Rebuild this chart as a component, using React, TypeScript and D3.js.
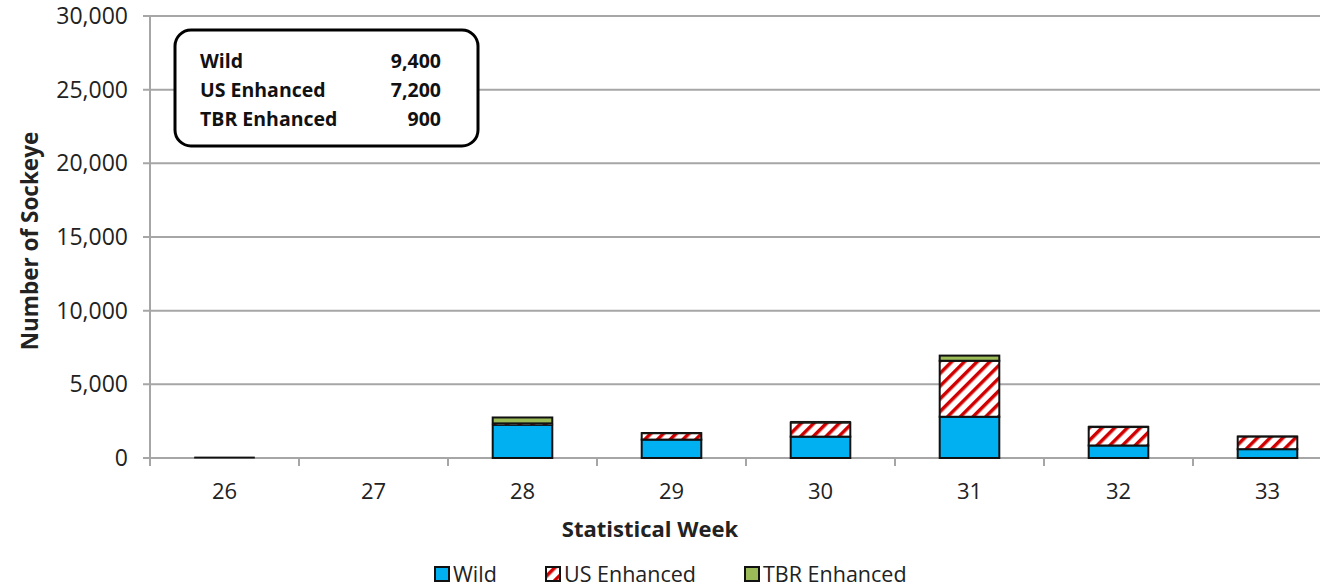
import React, { useEffect, useRef } from "react";
import * as d3 from "d3";

const weeks = ["26", "27", "28", "29", "30", "31", "32", "33"];
const wild = [60, 0, 2250, 1250, 1450, 2800, 850, 600];
const usEnhanced = [0, 0, 100, 430, 950, 3800, 1250, 850];
const tbrEnhanced = [0, 0, 400, 50, 80, 350, 60, 40];
const yTicks = [0, 5000, 10000, 15000, 20000, 25000, 30000];
const totalsLabels = ["Wild", "US Enhanced", "TBR Enhanced"];
const totalsValues = ["9,400", "7,200", "900"];

const FONT = "'Open Sans', 'Noto Sans', sans-serif";

export default function App() {
  const ref = useRef<SVGSVGElement>(null);

  useEffect(() => {
    const svg = d3.select(ref.current);
    svg.selectAll("*").remove();

    const left = 150, top = 16, bottom = 458, right = 1342;

    const x = d3.scaleBand().domain(weeks).range([left, right]).paddingInner(0.6).paddingOuter(0.3);
    const xTick = d3.scaleLinear().domain([0, weeks.length]).range([left, right]);
    const y = d3.scaleLinear().domain([0, 30000]).range([bottom, top]);

    const defs = svg.append("defs");
    const pat = defs.append("pattern")
      .attr("id", "hatch")
      .attr("patternUnits", "userSpaceOnUse")
      .attr("width", 9)
      .attr("height", 9)
      .attr("patternTransform", "rotate(45)");
    pat.append("rect").attr("width", 9).attr("height", 9).attr("fill", "#fff");
    pat.append("rect").attr("width", 3.5).attr("height", 9).attr("fill", "#d00000");

    // gridlines
    svg.append("g").selectAll("line").data(yTicks).join("line")
      .attr("x1", left - 7).attr("x2", right)
      .attr("y1", d => y(d)).attr("y2", d => y(d))
      .attr("stroke", "#a6a6a6").attr("stroke-width", 2);

    // y axis line
    svg.append("line").attr("x1", left).attr("x2", left).attr("y1", top).attr("y2", bottom)
      .attr("stroke", "#a6a6a6").attr("stroke-width", 2);

    // x ticks
    svg.append("g").selectAll("line").data(d3.range(weeks.length + 1)).join("line")
      .attr("x1", d => xTick(d)).attr("x2", d => xTick(d))
      .attr("y1", bottom).attr("y2", bottom + 8)
      .attr("stroke", "#a6a6a6").attr("stroke-width", 2);

    // y labels
    svg.append("g").selectAll("text").data(yTicks).join("text")
      .attr("x", left - 22).attr("y", d => y(d))
      .attr("dy", "0.35em").attr("text-anchor", "end")
      .attr("font-family", FONT).attr("font-size", 23).attr("fill", "#222")
      .text(d => d3.format(",")(d));

    // x labels
    svg.append("g").selectAll("text").data(weeks).join("text")
      .attr("x", d => (x(d) as number) + x.bandwidth() / 2).attr("y", 499)
      .attr("text-anchor", "middle")
      .attr("font-family", FONT).attr("font-size", 22).attr("fill", "#222")
      .text(d => d);

    // stacked bars
    const rows = weeks.map((w, i) => ({ week: w, wild: wild[i], us: usEnhanced[i], tbr: tbrEnhanced[i] }));
    const stack = d3.stack<any>().keys(["wild", "us", "tbr"])(rows);
    const fills = ["#00b0f0", "url(#hatch)", "#9bbb59"];

    stack.forEach((layer, li) => {
      svg.append("g").selectAll("rect").data(layer.filter(d => d[1] - d[0] > 0)).join("rect")
        .attr("x", d => x(d.data.week) as number)
        .attr("width", x.bandwidth())
        .attr("y", d => y(d[1]))
        .attr("height", d => y(d[0]) - y(d[1]))
        .attr("fill", fills[li])
        .attr("stroke", "#111").attr("stroke-width", d => (y(d[0]) - y(d[1]) < 2 ? 1 : 2));
    });

    // axis titles
    svg.append("text")
      .attr("transform", `translate(38,241) rotate(-90)`)
      .attr("text-anchor", "middle")
      .attr("font-family", FONT).attr("font-size", 22.5).attr("font-weight", "bold").attr("fill", "#222")
      .text("Number of Sockeye");
    svg.append("text")
      .attr("x", 650).attr("y", 537).attr("text-anchor", "middle")
      .attr("font-family", FONT).attr("font-size", 22).attr("font-weight", "bold").attr("fill", "#222")
      .text("Statistical Week");

    // totals box
    const box = svg.append("g");
    box.append("rect").attr("x", 175).attr("y", 30).attr("width", 303).attr("height", 116)
      .attr("rx", 16).attr("fill", "#fff").attr("stroke", "#000").attr("stroke-width", 3);
    totalsLabels.forEach((lab, i) => {
      box.append("text").attr("x", 200).attr("y", 68 + i * 29)
        .attr("font-family", FONT).attr("font-size", 19.5).attr("font-weight", "bold").attr("fill", "#111")
        .text(lab);
      box.append("text").attr("x", 441).attr("y", 68 + i * 29).attr("text-anchor", "end")
        .attr("font-family", FONT).attr("font-size", 19.5).attr("font-weight", "bold").attr("fill", "#111")
        .text(totalsValues[i]);
    });

    // legend
    const legendItems = [
      { label: "Wild", fill: fills[0], x: 435 },
      { label: "US Enhanced", fill: fills[1], x: 546 },
      { label: "TBR Enhanced", fill: fills[2], x: 745 },
    ];
    const lg = svg.append("g");
    legendItems.forEach(it => {
      lg.append("rect").attr("x", it.x).attr("y", 567).attr("width", 14).attr("height", 14)
        .attr("fill", it.fill).attr("stroke", "#111").attr("stroke-width", 2);
      lg.append("text").attr("x", it.x + 18).attr("y", 582)
        .attr("font-family", FONT).attr("font-size", 21.5).attr("fill", "#222")
        .text(it.label);
    });
  }, []);

  return (
    <svg ref={ref} width={1320} height={588}
      style={{ position: "absolute", left: 0, top: 0, background: "#fff" }} />
  );
}
